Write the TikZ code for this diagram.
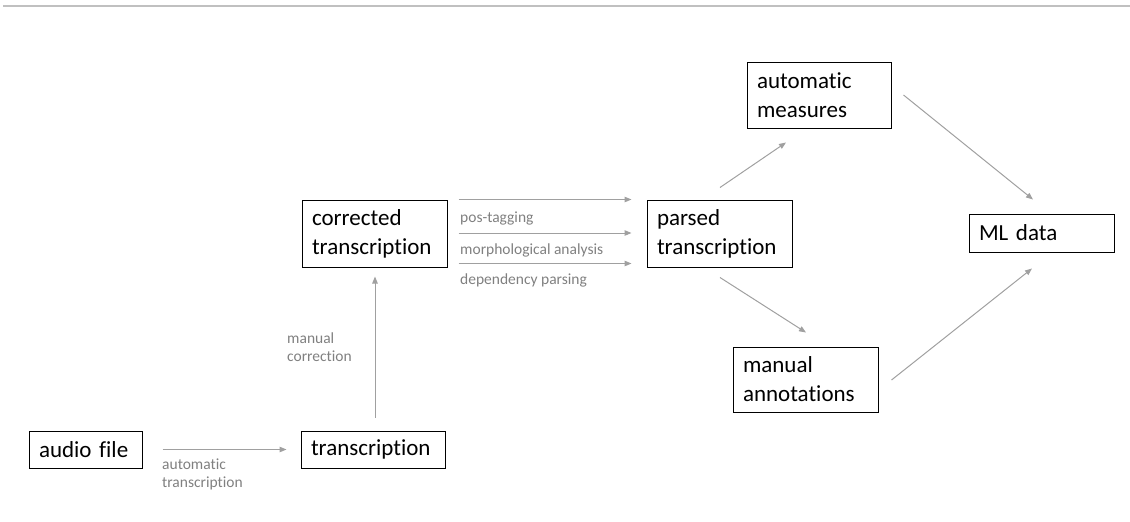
\documentclass[tikz,border=0pt]{standalone}
\usepackage{fontspec}
\setmainfont{Carlito}[Ligatures=NoCommon]
\usetikzlibrary{arrows.meta,calc}
\definecolor{linegray}{HTML}{A0A0A0}
\definecolor{labelgray}{HTML}{808080}
\definecolor{rulegray}{HTML}{C0C0C0}
\begin{document}
\begin{tikzpicture}[x=1pt,y=-1pt,
  box/.style={draw=black, line width=1pt, inner xsep=10pt, inner ysep=0pt,
    align=left, font=\fontsize{23}{29}\selectfont},
  conn/.style={draw=linegray, line width=1pt, -{Triangle[length=7pt,width=5.5pt]}},
  lbl/.style={text=labelgray, font=\fontsize{15.5}{18}\selectfont, align=left,
    inner sep=0pt, anchor=north west}]
\useasboundingbox (0,0) rectangle (1130,522);
\draw[rulegray, line width=1.5pt] (3,6) coordinate (rl) -- (1130,6) coordinate (rr);

\node[box, text width=93pt, minimum height=37pt] (audio) at (85.5,449.5) {audio file};
\node[box, text width=124pt, minimum height=37pt] (trans) at (373,449.5) {transcription};
\node[box, text width=125pt, minimum height=67pt] (corr) at (374.5,233.5) {corrected\\transcription};
\node[box, text width=125pt, minimum height=67pt] (parsed) at (719.5,233.5) {parsed\\transcription};
\node[box, text width=124pt, minimum height=66pt] (auto) at (819,95) {automatic\\measures};
\node[box, text width=125pt, minimum height=38pt] (ml) at (1041.5,233) {ML data};
\node[box, text width=125pt, minimum height=65pt] (manual) at (805.5,379.5) {manual\\annotations};

% audio -> transcription
\draw[conn] ($(audio.east)+(20,0)$) -- ($(trans.west)+(-14,0)$);
\node[lbl] (l1) at (162,459) {automatic\\transcription};

% transcription -> corrected
\draw[conn] ($(trans.north)+(2,-13)$) -- ($(corr.south)+(0.5,9)$);
\node[lbl] (l2) at (287,333) {manual\\correction};

% corrected -> parsed (three)
\draw[conn] ($(corr.north east)+(11,0)$) -- ($(parsed.west |- corr.north east)+(-15,0)$);
\draw[conn] ($(corr.east)+(11,-0.5)$) -- ($(parsed.west |- corr.east)+(-15,-0.5)$);
\draw[conn] ($(corr.south east)+(11,-4)$) -- ($(parsed.west |- corr.south east)+(-15,-4)$);
\node[lbl] (l3) at (460,212) {pos-tagging};
\node[lbl] (l4) at (460,244) {morphological analysis};
\node[lbl] (l5) at (460,274) {dependency parsing};

% parsed -> automatic measures, parsed -> manual annotations
\draw[conn] ($(parsed.north)+(0.5,-12)$) -- ($(auto.south)+(-33,14)$);
\draw[conn] ($(parsed.south)+(0.5,10)$) -- ($(manual.north)+(0.5,-14)$);

% -> ML data
\draw[conn] ($(auto.east)+(12,0)$) -- ($(ml.north)+(-8.5,-14)$);
\draw[conn] ($(manual.east)+(13,0.5)$) -- ($(ml.south)+(-9.5,16)$);
\end{tikzpicture}
\end{document}
